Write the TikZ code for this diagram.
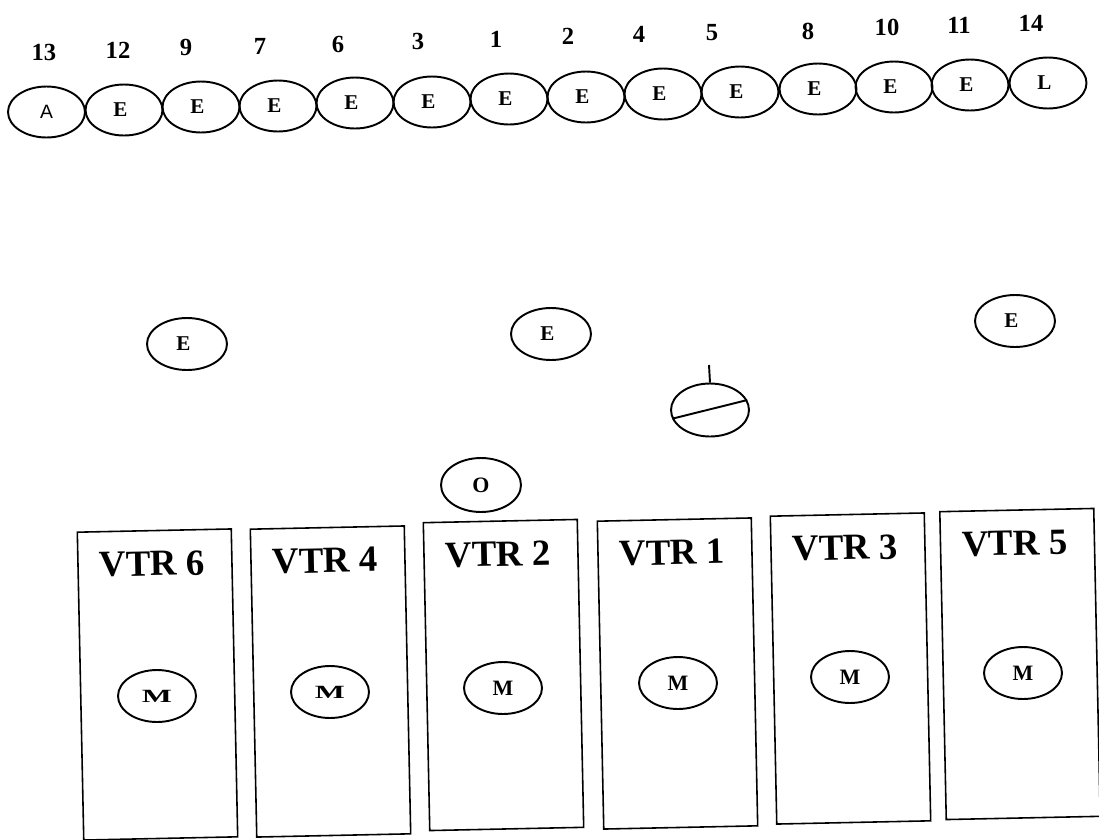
\documentclass[tikz,border=0pt]{standalone}
\usepackage{fontspec}
\setmainfont{Liberation Serif}
\newfontfamily\sansA{Liberation Sans}
\usetikzlibrary{shapes.geometric,calc}
\newcommand\Etxt{E\kern4pt}
\newcommand\wideM{\scalebox{1.45}[0.85]{M}}
\begin{document}
\begin{tikzpicture}[x=0.02cm,y=-0.02cm,
  oval/.style={draw, ellipse, line width=1.1pt, inner sep=0pt,
    minimum width=1.54cm, minimum height=1.02cm,
    font=\bfseries\fontsize{12}{12}\selectfont},
  midoval/.style={oval, minimum width=1.6cm, minimum height=1.04cm},
  mdisk/.style={oval, minimum width=1.56cm, minimum height=1.04cm,
    font=\bfseries\fontsize{12.5}{13}\selectfont},
  num/.style={font=\bfseries\fontsize{14}{14}\selectfont, inner sep=0pt},
  vtrbox/.style={draw, rectangle, line width=0.9pt, minimum width=3.08cm,
    minimum height=6.16cm, rotate=1.2, inner sep=0pt},
  vtrtext/.style={font=\bfseries\fontsize{21}{21}\selectfont, rotate=1.2, inner sep=0pt},
  slash/.style={line width=1.1pt}]
\fill[white] (0,0) rectangle (1099,839);
\useasboundingbox (0,0) rectangle (1099,839);

% top row
\node[oval, font=\sansA\fontsize{11}{12}\selectfont] (t13) at (46.5,112) {A};
\node[oval] (t12) at (124,110) {\Etxt};
\node[oval] (t9)  at (201,107) {\Etxt};
\node[oval] (t7)  at (278,106) {\Etxt};
\node[oval] (t6)  at (355,103) {\Etxt};
\node[oval] (t3)  at (432,102) {\Etxt};
\node[oval] (t1)  at (509,99)  {\Etxt};
\node[oval] (t2)  at (586,97)  {\Etxt};
\node[oval] (t4)  at (663,94)  {\Etxt};
\node[oval] (t5)  at (740,92)  {\Etxt};
\node[oval] (t8)  at (818,89)  {\Etxt};
\node[oval] (t10) at (894,87)  {\Etxt};
\node[oval] (t11) at (970,85)  {\Etxt};
\node[oval] (t14) at (1048,83) {L\kern4pt};

\node[num] (n13) at (44,52)  {13};
\node[num] (n12) at (118,50) {12};
\node[num] (n9)  at (186,47) {9};
\node[num] (n7)  at (260,46) {7};
\node[num] (n6)  at (338,44) {6};
\node[num] (n3)  at (418,41) {3};
\node[num] (n1)  at (496,39) {1};
\node[num] (n2)  at (568,36) {2};
\node[num] (n4)  at (639,34) {4};
\node[num] (n5)  at (712,33) {5};
\node[num] (n8)  at (808,31) {8};
\node[num] (n10) at (887,27) {10};
\node[num] (n11) at (959,25) {11};
\node[num] (n14) at (1031,23) {14};

% middle
\node[midoval] (mE1) at (187,344) {\Etxt};
\node[midoval] (mE2) at (551,334) {\Etxt};
\node[midoval] (mE3) at (1015,321) {\Etxt};
\node[midoval, minimum height=1.08cm, font=\bfseries\fontsize{12.5}{13}\selectfont] (mO) at (481,485) {O};
\node[midoval, minimum width=1.56cm, minimum height=1.06cm] (sl) at (710,410) {};
\coordinate (tick) at (709,365);
\draw[slash] (sl.north) -- (tick);
\draw[slash] (sl.193) -- (sl.15);

% VTR boxes
\node[vtrbox] (v6) at (157.5,684.5) {};
\node[vtrbox] (v4) at (330.5,681.5) {};
\node[vtrbox] (v2) at (503.5,675) {};
\node[vtrbox] (v1) at (677.5,673.5) {};
\node[vtrbox] (v3) at (850.5,668.5) {};
\node[vtrbox] (v5) at (1020,664) {};

\node[vtrtext] (l6) at ($(v6.north)+(-2,34)$) {VTR 6};
\node[vtrtext] (l4) at ($(v4.north)+(-2,34)$) {VTR 4};
\node[vtrtext] (l2) at ($(v2.north)+(-2,34)$) {VTR 2};
\node[vtrtext] (l1) at ($(v1.north)+(-2,34)$) {VTR 1};
\node[vtrtext] (l3) at ($(v3.north)+(-2,34)$) {VTR 3};
\node[vtrtext] (l5) at ($(v5.north)+(-2,34)$) {VTR 5};

\node[mdisk] (m6) at (157,696) {\wideM};
\node[mdisk] (m4) at (330,692) {\wideM};
\node[mdisk] (m2) at (503,688) {M};
\node[mdisk] (m1) at (678,683) {M};
\node[mdisk] (m3) at (850,677) {M};
\node[mdisk] (m5) at (1023,673) {M};
\end{tikzpicture}
\end{document}
